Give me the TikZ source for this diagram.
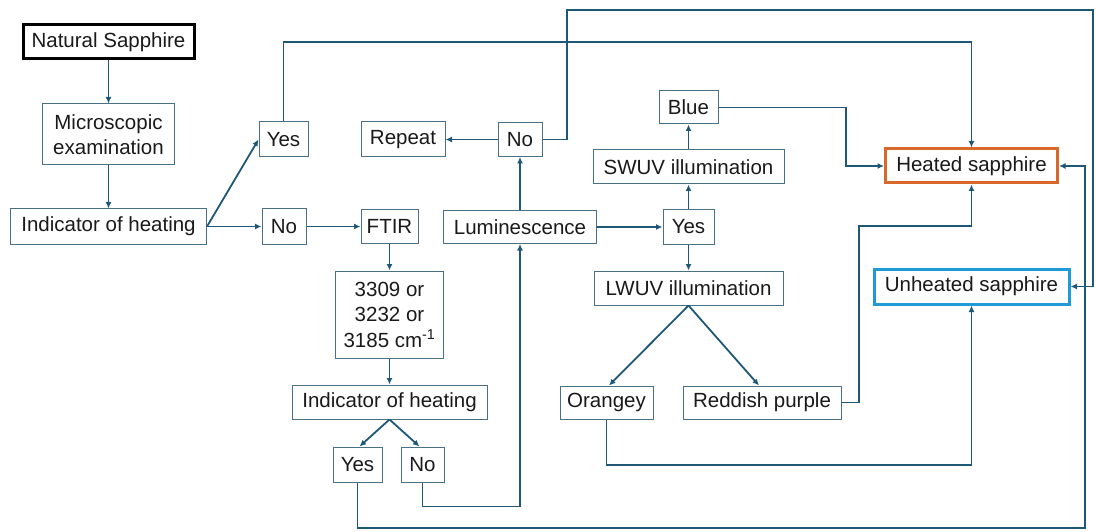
\documentclass[tikz,border=0pt]{standalone}
\usepackage{fontspec}
\setmainfont{Liberation Sans}
\usetikzlibrary{arrows.meta,calc}
\definecolor{linec}{HTML}{1F5877}
\definecolor{boxc}{HTML}{4A7088}
\definecolor{heatc}{HTML}{D8692A}
\definecolor{unheatc}{HTML}{1E9AD6}
\definecolor{txtc}{HTML}{1A1A1A}
\tikzset{
  box/.style={draw=boxc, line width=1pt, inner sep=0pt, align=center, text=txtc,
    font=\fontsize{20.5}{25.5}\selectfont, fill=white},
  conn/.style={draw=linec, line width=1.8pt, -{Latex[length=6.5pt,width=6pt]}},
}
\begin{document}
\begin{tikzpicture}[x=1pt,y=-1pt]
\useasboundingbox (0,0) rectangle (1096,532);
% nodes
\node[box, draw=black, line width=3pt, minimum width=171, minimum height=34] (nat) at (108.5,42) {Natural Sapphire};
\node[box, minimum width=132, minimum height=61] (micro) at (108.5,134.5) {Microscopic\\examination};
\node[box, minimum width=196, minimum height=35] (ind1) at (108.5,226.5) {Indicator of heating};
\node[box, minimum width=49, minimum height=35] (yes1) at (283.5,139.5) {Yes};
\node[box, minimum width=44, minimum height=35] (no1) at (284,226.5) {No};
\node[box, minimum width=84, minimum height=35] (repeat) at (403,139.5) {Repeat};
\node[box, minimum width=57, minimum height=34] (ftir) at (389.5,226.5) {FTIR};
\node[box, minimum width=108, minimum height=87] (cm) at (389.5,314.5) {3309 or\\3232 or\\3185 cm\textsuperscript{-1}};
\node[box, minimum width=195, minimum height=34] (ind2) at (389.5,402) {Indicator of heating};
\node[box, minimum width=49, minimum height=35] (yes2) at (357.5,464.5) {Yes};
\node[box, minimum width=43, minimum height=35] (no2) at (422.5,464.5) {No};
\node[box, minimum width=153, minimum height=33] (lum) at (520,227) {Luminescence};
\node[box, minimum width=44, minimum height=34] (no3) at (520,139.5) {No};
\node[box, minimum width=51, minimum height=35] (yes3) at (688.5,227) {Yes};
\node[box, minimum width=191, minimum height=34] (swuv) at (688.5,167) {SWUV illumination};
\node[box, minimum width=59, minimum height=33] (blue) at (688.5,107.5) {Blue};
\node[box, minimum width=189, minimum height=34] (lwuv) at (688.5,288) {LWUV illumination};
\node[box, minimum width=93, minimum height=33] (orangey) at (606.5,402.5) {Orangey};
\node[box, minimum width=158, minimum height=33] (reddish) at (762,402.5) {Reddish purple};
\node[box, draw=heatc, line width=3pt, minimum width=172, minimum height=34] (heated) at (971.5,166) {Heated sapphire};
\node[box, draw=unheatc, line width=3pt, minimum width=195, minimum height=35] (unheated) at (971.5,286.5) {Unheated sapphire};
% helper coordinates
\coordinate (t1) at (567,10);
\coordinate (t2) at (1093,10);
\coordinate (t3) at (600,42);
\coordinate (rb) at (1085,528);
\coordinate (b1) at (846,107.5);
\coordinate (r1) at (859,226);
\coordinate (o1) at (700,465);
% connectors
\draw[conn] (nat) -- (micro);
\draw[conn] (micro) -- (ind1);
\draw[conn] (ind1.east) -- (yes1.west);
\draw[conn] (ind1) -- (no1);
\draw[conn] (no1) -- (ftir);
\draw[conn] (ftir) -- (cm);
\draw[conn] (cm) -- (ind2);
\draw[conn] (ind2.south) -- ($(yes2.north)+(2,0)$);
\draw[conn] (ind2.south) -- ($(no2.north)+(-3,0)$);
\draw[conn] (no2.south) -- ++(0,24) -| (lum.south);
\draw[conn] (yes2.south) |- (rb) |- (heated.east);
\draw[conn] (lum) -- (no3);
\draw[conn] (no3) -- (repeat);
\draw[conn] (no3.east) -| (t1) -- (t2) |- (unheated.east);
\draw[conn] (yes1.north) |- (t3) -| (heated.north);
\draw[conn] (lum) -- (yes3);
\draw[conn] (yes3) -- (swuv);
\draw[conn] (swuv) -- (blue);
\draw[conn] (yes3) -- (lwuv);
\draw[conn] (blue.east) -- (b1) |- (heated.west);
\draw[conn] (lwuv.south) -- ($(orangey.north)+(2.5,0)$);
\draw[conn] (lwuv.south) -- ($(reddish.north)+(-3,0)$);
\draw[conn] (reddish.east) -| (r1) -| (heated.south);
\draw[conn] (orangey.south) |- (o1) -| (unheated.south);
\end{tikzpicture}
\end{document}
